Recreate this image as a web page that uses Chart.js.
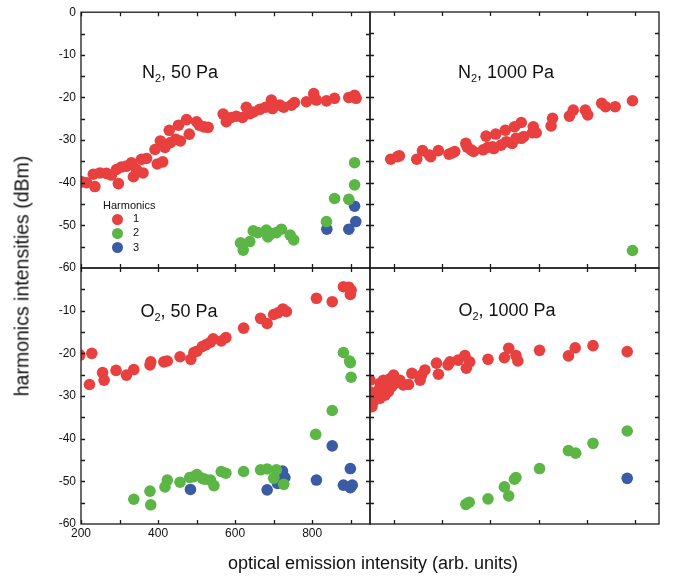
<!DOCTYPE html>
<html>
<head>
<meta charset="utf-8">
<script src="https://cdn.jsdelivr.net/npm/chart.js@4.4.0/dist/chart.umd.min.js"></script>
<style>
  html, body { margin: 0; padding: 0; background: #fff; }
  #wrap { position: relative; width: 680px; height: 576px; overflow: hidden;
          font-family: "Liberation Sans", Arial, sans-serif; color: #111; }
  #wrap canvas { position: absolute; left: 0; top: 0; }
  .txt { position: absolute; white-space: nowrap; transform: translate(-50%, -50%); }
  .panel { font-size: 18px; }
  .panel sub { font-size: 11px; vertical-align: -4px; line-height: 0; }
  .dot { position: absolute; width: 11px; height: 11px; border-radius: 50%; }
  .leg { position: absolute; font-size: 11px; }
</style>
</head>
<body>
<div id="wrap">
  <canvas id="tl" width="680" height="576"></canvas>
  <canvas id="tr" width="680" height="576"></canvas>
  <canvas id="bl" width="680" height="576"></canvas>
  <canvas id="br" width="680" height="576"></canvas>

  <div class="txt panel" style="left:180px; top:72px;">N<sub>2</sub>, 50 Pa</div>
  <div class="txt panel" style="left:506px; top:72px;">N<sub>2</sub>, 1000 Pa</div>
  <div class="txt panel" style="left:179px; top:311px;">O<sub>2</sub>, 50 Pa</div>
  <div class="txt panel" style="left:507px; top:310px;">O<sub>2</sub>, 1000 Pa</div>

  <div class="txt" style="left:22px; top:276px; font-size:19.5px; transform: translate(-50%, -50%) rotate(-90deg);">harmonics intensities (dBm)</div>
  <div class="txt" style="left:373px; top:563px; font-size:18px;">optical emission intensity (arb. units)</div>

  <div class="leg" style="left:103px; top:199px;">Harmonics</div>
  <div id="legend"></div>
</div>

<script>
// harmonic colours
const colors = ['#e8403f', '#5cb646', '#3b5ba5'];
const harmonics = ['1', '2', '3'];

// tick labels
const leftXLabels = [200, 400, 600, 800];
const rightXLabels = [200, 400, 600];
const yLabels = [0, -10, -20, -30, -40, -50, -60];

// N2, 50 Pa  [intensity, dBm]
const n2Low1 = [[202,-39.8],[215,-40.0],[236,-40.9],[232,-38.0],[249,-37.7],[266,-37.8],[279,-38.2],[297,-40.2],
  [292,-36.9],[305,-36.3],[318,-36.1],[331,-35.3],[336,-38.6],[344,-36.9],[357,-34.5],[361,-37.7],[370,-34.3],
  [392,-32.2],[398,-35.6],[412,-35.1],[406,-30.2],[418,-31.7],[429,-27.7],[432,-30.6],[446,-29.8],[453,-26.5],
  [458,-30.2],[474,-25.2],[481,-28.6],[500,-25.7],[507,-26.5],[519,-26.9],[530,-27.0],[569,-23.9],[577,-25.7],
  [590,-24.7],[603,-24.4],[619,-24.7],[629,-22.3],[638,-23.8],[648,-23.4],[664,-22.8],[679,-22.3],[694,-20.6],
  [697,-22.6],[716,-21.8],[726,-22.3],[746,-21.8],[754,-21.2],[785,-21.0],[804,-19.1],[811,-20.6],[837,-20.8],
  [858,-20.2],[895,-20.0],[910,-19.5],[914,-20.2]];
const n2Low2 = [[614,-54.1],[621,-55.8],[638,-53.8],[647,-51.3],[659,-51.7],[681,-51.1],[685,-52.7],[694,-51.9],
  [707,-51.7],[720,-50.9],[743,-52.3],[752,-53.4],[837,-49.1],[858,-43.7],[895,-43.9],[910,-40.5],[910,-35.3]];
const n2Low3 = [[838,-50.9],[895,-50.9],[910,-45.5],[913,-49.1]];

// N2, 1000 Pa
const n2High1 = [[93,-34.5],[107,-33.9],[111,-33.7],[147,-34.5],[159,-32.5],[173,-33.5],[176,-33.9],[192,-32.5],
  [214,-33.3],[221,-33.0],[226,-32.7],[249,-30.8],[252,-31.7],[260,-32.3],[265,-32.7],[285,-32.3],[291,-29.1],
  [295,-31.7],[304,-31.6],[311,-28.6],[307,-32.0],[322,-31.2],[331,-27.7],[333,-30.4],[345,-30.8],[350,-26.9],
  [353,-29.6],[364,-25.9],[364,-29.6],[369,-29.2],[387,-28.3],[389,-26.9],[395,-28.3],[426,-26.7],[429,-24.9],
  [464,-24.4],[472,-23.0],[497,-23.0],[502,-24.1],[531,-21.4],[539,-22.2],[559,-22.2],[595,-20.8]];
const n2High2 = [[595,-55.9]];

// O2, 50 Pa
const o2Low1 = [[197,-20.4],[222,-27.3],[228,-20.0],[256,-24.5],[260,-26.3],[291,-24.0],[318,-25.1],[337,-23.8],
  [379,-22.7],[381,-22.0],[415,-22.0],[424,-21.8],[457,-20.8],[485,-21.4],[493,-19.8],[501,-19.5],[515,-18.4],
  [524,-18.0],[536,-17.4],[543,-16.6],[564,-17.1],[576,-16.3],[622,-14.1],[666,-11.8],[683,-13.0],[700,-10.9],
  [711,-10.5],[724,-9.6],[733,-10.2],[811,-7.1],[852,-7.9],[881,-4.4],[895,-4.5],[901,-5.2],[899,-6.2]];
const o2Low2 = [[337,-54.2],[379,-52.3],[381,-55.5],[418,-51.3],[424,-49.7],[457,-50.2],[482,-49.1],[493,-48.9],
  [501,-48.4],[515,-49.3],[521,-49.5],[536,-49.7],[545,-51.0],[564,-47.7],[576,-48.1],[622,-47.7],[666,-47.3],
  [683,-47.1],[707,-47.3],[700,-49.3],[726,-50.7],[809,-39.0],[852,-33.4],[881,-19.8],[897,-21.8],[899,-22.2],[901,-25.6]];
const o2Low3 = [[484,-51.9],[683,-52.0],[710,-50.5],[723,-47.6],[729,-49.1],[811,-49.7],[852,-41.7],[881,-50.9],
  [899,-47.0],[899,-51.5],[904,-50.9]];

// O2, 1000 Pa
const o2High1 = [[50,-26.3],[50,-29.0],[54,-30.2],[54,-32.5],[57,-31.3],[61,-29.8],[64,-30.5],[68,-28.6],[71,-27.0],
  [71,-30.5],[75,-29.4],[78,-26.3],[81,-28.2],[81,-29.8],[85,-26.6],[88,-29.0],[92,-25.9],[95,-27.8],[99,-25.1],
  [102,-27.0],[106,-26.3],[112,-26.3],[119,-27.4],[130,-27.3],[137,-24.7],[154,-26.3],[157,-25.1],[164,-23.9],
  [188,-22.3],[192,-24.9],[212,-22.7],[216,-22.0],[233,-21.6],[247,-20.5],[250,-23.5],[257,-22.0],[295,-21.4],
  [329,-21.0],[338,-18.8],[353,-20.5],[357,-21.8],[402,-19.3],[462,-20.6],[476,-18.7],[513,-18.2],[584,-19.6]];
const o2High2 = [[249,-55.4],[256,-54.9],[295,-54.1],[329,-51.3],[338,-53.4],[350,-49.5],[353,-49.1],[402,-47.0],
  [462,-42.8],[477,-43.4],[513,-41.1],[584,-38.2]];
const o2High3 = [[584,-49.3]];

const frame = {
  id: 'frame',
  afterDraw(chart) {
    const { ctx, chartArea: a, scales: { x, y } } = chart;
    ctx.save();
    ctx.strokeStyle = '#1a1a1a';
    ctx.lineWidth = 1.3;
    ctx.strokeRect(a.left, a.top, a.right - a.left, a.bottom - a.top);
    ctx.beginPath();
    for (let v = Math.ceil(x.min / 100) * 100; v < x.max; v += 100) {
      const px = Math.round(x.getPixelForValue(v)) + 0.5;
      ctx.moveTo(px, a.bottom); ctx.lineTo(px, a.bottom - 4);
      ctx.moveTo(px, a.top); ctx.lineTo(px, a.top + 4);
    }
    for (let v = -55; v < 0; v += 5) {
      const py = Math.round(y.getPixelForValue(v)) + 0.5;
      ctx.moveTo(a.left, py); ctx.lineTo(a.left + 4, py);
      ctx.moveTo(a.right, py); ctx.lineTo(a.right - 4, py);
    }
    ctx.stroke();
    ctx.restore();
  }
};

function toPts(arr) {
  return arr.map(p => ({ x: p[0], y: p[1] }));
}

function panel(id, box, xRange, xLabels, showY, skipZero, series) {
  const tickFont = { family: '"Liberation Sans", Arial, sans-serif', size: 12 };
  new Chart(document.getElementById(id), {
    type: 'scatter',
    data: {
      datasets: series.map((s, i) => ({
        data: toPts(s),
        backgroundColor: colors[i],
        borderWidth: 0,
        pointRadius: 5.8,
        pointHoverRadius: 5.8,
        clip: 0
      })).filter(d => d.data.length)
    },
    options: {
      responsive: false,
      animation: false,
      events: [],
      layout: { padding: { left: box[0] - 40, top: box[1], right: 680 - box[2], bottom: 576 - box[3] - 30 } },
      plugins: { legend: { display: false }, tooltip: { enabled: false } },
      scales: {
        x: {
          type: 'linear', min: xRange[0], max: xRange[1],
          grid: { display: false, drawTicks: false }, border: { display: false },
          afterFit: s => { s.height = 30; },
          ticks: {
            display: xLabels.length > 0, stepSize: 100, autoSkip: false, maxRotation: 0, padding: 2,
            font: tickFont, color: '#111',
            callback: v => xLabels.includes(v) ? String(v) : ''
          }
        },
        y: {
          type: 'linear', min: -60, max: 0,
          grid: { display: false, drawTicks: false }, border: { display: false },
          afterFit: s => { s.width = 40; },
          ticks: {
            display: showY, stepSize: 5, autoSkip: false, padding: 5,
            font: tickFont, color: '#111',
            callback: v => (yLabels.includes(v) && !(skipZero && v === 0)) ? String(v) : ''
          }
        }
      }
    },
    plugins: [frame]
  });
}

panel('tl', [81, 12, 370, 268], [200, 950], [], true, false, [n2Low1, n2Low2, n2Low3]);
panel('tr', [370, 12, 659, 268], [50, 650], [], false, false, [n2High1, n2High2, []]);
panel('bl', [81, 268, 370, 524], [200, 950], leftXLabels, true, true, [o2Low1, o2Low2, o2Low3]);
panel('br', [370, 268, 659, 524], [50, 650], rightXLabels, false, false, [o2High1, o2High2, o2High3]);

// legend for the harmonics, top-left panel
const legend = document.getElementById('legend');
harmonics.forEach((h, i) => {
  const y = 219 + i * 14.3;
  const d = document.createElement('div');
  d.className = 'dot';
  d.style.cssText = `left:${117 - 5.5}px; top:${y - 5.5}px; background:${colors[i]};`;
  legend.appendChild(d);
  const t = document.createElement('div');
  t.className = 'leg';
  t.style.cssText = `left:133px; top:${y - 7}px;`;
  t.textContent = h;
  legend.appendChild(t);
});
</script>
</body>
</html>
